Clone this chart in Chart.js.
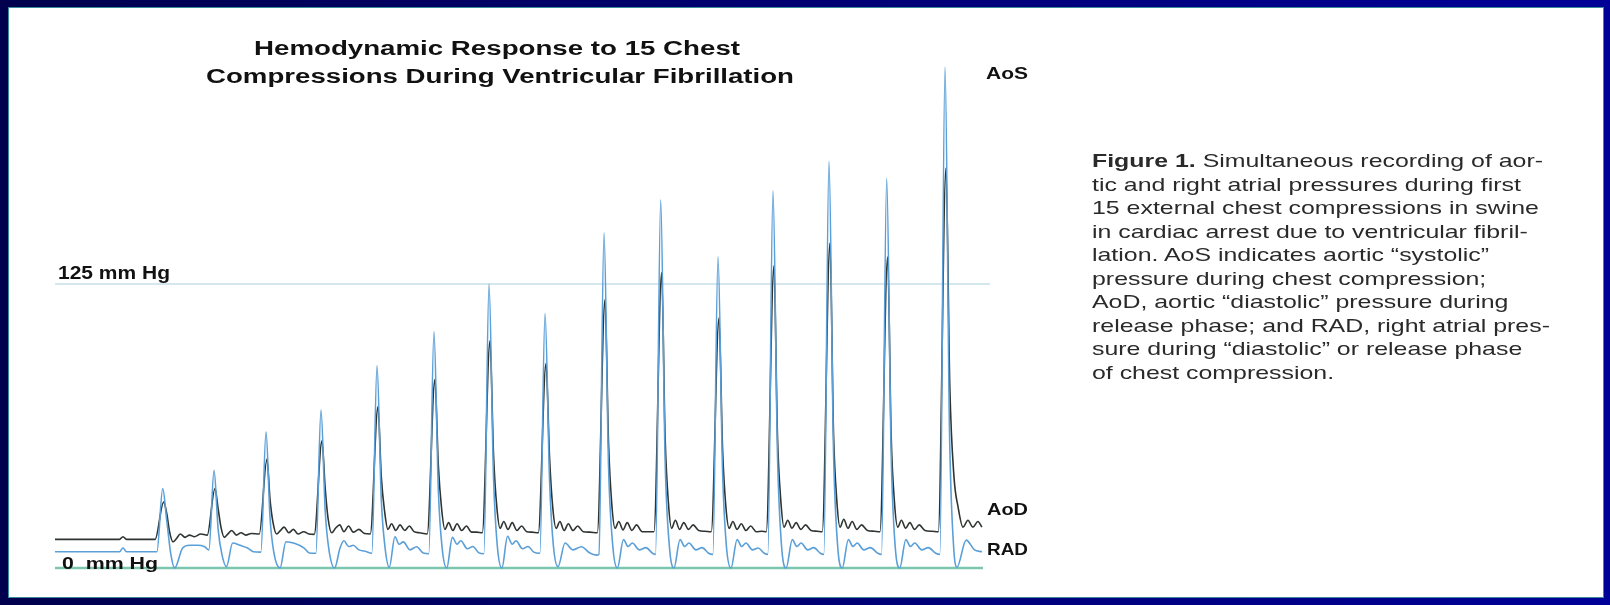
<!DOCTYPE html>
<html>
<head>
<meta charset="utf-8">
<script src="https://cdn.jsdelivr.net/npm/chart.js@4.4.1/dist/chart.umd.min.js"></script>
<style>
html,body{margin:0;padding:0;}
body{width:1610px;height:605px;overflow:hidden;position:relative;background:linear-gradient(to right,#00004e,#000098);}
#panel{position:absolute;left:9px;top:8px;width:1594px;height:589px;background:#fff;box-shadow:0 0 0 1px #3a8a9a;}
#chart{position:absolute;left:0;top:0;}
#caption{position:absolute;left:1092px;top:150px;font-family:"Liberation Sans",Arial,sans-serif;font-size:17.7px;line-height:23.5px;color:#2a2a2a;white-space:nowrap;transform-origin:0 0;}
</style>
</head>
<body>
<div id="panel"></div>
<canvas id="chart" width="1610" height="605"></canvas>
<div id="caption"></div>
<script>
// time in ms, pressure in mm Hg
const aorticPressure = [
[0,12.6],[690,12.6],[727,13.8],[765,12.6],[1070,12.6],
[1162,29],[1195,24],[1225,16],[1262,11.5],[1300,13],[1340,15],[1390,13.5],[1440,14.5],[1490,13.8],[1560,15],[1628,14.5],
[1711,35],[1745,26],[1775,18],[1810,13.5],[1850,15],[1890,16.5],[1940,14.5],[1990,15.5],[2040,14.5],[2100,15.2],[2185,15],
[2267,48],[2300,30],[2332,20],[2370,15],[2410,16.5],[2450,18],[2500,15.5],[2550,17],[2600,15],[2660,16],[2715,15],[2773,14.8],
[2855,56],[2890,35],[2920,22],[2960,15.5],[3000,17.5],[3045,19],[3090,16],[3140,18.5],[3190,15.8],[3250,17],[3310,15.2],[3372,15],
[3454,71],[3490,40],[3525,25],[3560,17],[3600,19.5],[3645,16.5],[3690,19],[3740,16.5],[3790,18.5],[3840,16],[3900,15.5],[3981,15],
[4063,83],[4100,45],[4135,26],[4170,17],[4210,20],[4255,16.5],[4300,19.5],[4350,16.5],[4400,18.5],[4455,15.8],[4510,15.8],[4570,15.5],
[4652,100],[4690,50],[4725,27],[4760,17.5],[4800,20.5],[4845,17],[4890,20],[4940,16.5],[4990,18.5],[5045,16],[5100,15.8],[5169,15.5],
[5251,90],[5290,48],[5325,26],[5360,17.5],[5400,20.5],[5445,16.5],[5490,19.5],[5540,16.5],[5590,18.5],[5650,16],[5720,15.8],[5800,15.5],
[5882,118],[5920,55],[5955,28],[5990,17.5],[6030,20.5],[6075,16.8],[6120,20],[6170,16.5],[6220,19],[6280,16],[6340,16],[6406,16],
[6488,130],[6525,58],[6560,29],[6595,17.5],[6635,21],[6680,17],[6725,20],[6775,17],[6825,19],[6885,16.5],[6950,16.2],[7019,16],
[7101,110],[7140,52],[7175,27],[7210,17.5],[7250,20.5],[7295,17],[7340,19.5],[7390,16.5],[7440,18.5],[7500,16],[7560,16.2],[7607,16],
[7689,133],[7727,58],[7762,30],[7797,18],[7837,21],[7882,17.5],[7927,20],[7977,17],[8027,19],[8087,16.5],[8150,16.2],[8206,16],
[8288,143],[8326,60],[8361,30],[8396,18],[8436,21.5],[8481,17.5],[8526,20.5],[8576,17],[8626,19],[8690,16.5],[8760,16.2],[8823,16],
[8905,137],[8943,58],[8978,29],[9013,18],[9053,21],[9098,17.5],[9143,20],[9193,17],[9243,19],[9305,16.5],[9380,16.2],[9447,16],
[9529,176],[9570,80],[9615,40],[9658,27],[9711,18],[9764,21],[9817,18],[9871,20.5],[9914,18]
];

const rightAtrialPressure = [
[0,7.2],[690,7.2],[727,8.8],[765,7.2],[1090,7.2],
[1152,35],[1195,21],[1237,6.6],[1280,0],[1365,8.8],[1440,10],[1525,10],[1600,9.4],[1646,8],
[1701,43],[1745,17],[1785,6],[1834,0.6],[1900,11],[1980,10],[2060,8.8],[2120,7.2],[2202,7],
[2257,60],[2300,22],[2340,7],[2407,0],[2470,11.6],[2560,10.9],[2665,8.8],[2720,6.6],[2790,6.5],
[2845,69.5],[2890,25],[2930,8],[2990,0],[3050,9],[3090,12],[3140,9.5],[3190,10],[3250,8],[3310,7.5],[3389,6.5],
[3444,89],[3490,30],[3530,9],[3575,0.3],[3636,13.8],[3680,10.5],[3725,11.5],[3797,8],[3868,9.4],[3939,6.6],[3998,6.3],
[4053,104],[4100,34],[4140,9],[4190,0],[4250,13.5],[4300,10.5],[4340,12],[4410,8.5],[4470,9.5],[4530,6.8],[4587,6.3],
[4642,125],[4690,40],[4730,10],[4780,0],[4840,14],[4890,10.5],[4930,12],[5000,8.5],[5060,9.5],[5120,7],[5186,6.5],
[5241,112],[5290,38],[5330,10],[5380,0.6],[5455,11],[5540,8],[5630,9.4],[5720,6.6],[5790,5.7],[5817,6],
[5872,147.5],[5920,45],[5965,10],[6015,0],[6080,12.5],[6130,9.5],[6175,11],[6250,8],[6320,9],[6390,6.5],[6423,6],
[6478,162],[6525,48],[6570,10],[6620,0],[6685,12.5],[6735,9.5],[6780,11],[6855,8],[6920,9],[6990,6.5],[7036,6],
[7091,137],[7140,42],[7180,10],[7230,0],[7295,12.5],[7345,9.5],[7390,11],[7460,8],[7520,8.8],[7585,6.5],[7624,6],
[7679,166],[7727,50],[7770,10],[7820,0],[7885,12.5],[7935,9.5],[7980,11],[8050,8],[8115,9],[8185,6.5],[8223,6],
[8278,179],[8326,52],[8370,10],[8420,0],[8485,12.5],[8535,9.5],[8580,11],[8650,8],[8720,9],[8800,6.5],[8840,6],
[8895,171.5],[8943,50],[8985,10],[9035,0],[9100,12.5],[9150,9.5],[9195,11],[9270,8],[9340,9],[9420,6.5],[9464,6],
[9519,220.5],[9567,60],[9610,10],[9647,0.4],[9745,12.3],[9834,8],[9914,7.2]
];

const referenceLevels = [125, 0];
const referenceEnds = [10000, 9925];
const referenceLabels = ["125 mm Hg", "0  mm Hg"];
const traceLabels = ["AoS", "AoD", "RAD"];
const titleLines = ["Hemodynamic Response to 15 Chest", "Compressions During Ventricular Fibrillation"];
const captionLines = [
  "<b>Figure 1.</b> Simultaneous recording of aor-",
  "tic and right atrial pressures during first",
  "15 external chest compressions in swine",
  "in cardiac arrest due to ventricular fibril-",
  "lation. AoS indicates aortic “systolic”",
  "pressure during chest compression;",
  "AoD, aortic “diastolic” pressure during",
  "release phase; and RAD, right atrial pres-",
  "sure during “diastolic” or release phase",
  "of chest compression."
];

const toXY = arr => arr.map(([t, v]) => ({x: t, y: v}));

// draw text stretched to the width it has in the figure
function fitText(ctx, text, left, baseline, width, font) {
  ctx.save();
  ctx.font = font;
  ctx.fillStyle = "#111";
  ctx.textAlign = "left";
  ctx.textBaseline = "alphabetic";
  const w = ctx.measureText(text).width;
  ctx.translate(left, baseline);
  ctx.scale(width / w, 1);
  ctx.fillText(text, 0, 0);
  ctx.restore();
}

const labelPlugin = {
  id: "figLabels",
  afterDatasetsDraw(chart) {
    const ctx = chart.ctx;
    const bold = s => "bold " + s + "px 'Liberation Sans', Arial, sans-serif";
    fitText(ctx, titleLines[0], 254, 55, 486, bold(20));
    fitText(ctx, titleLines[1], 206, 83, 588, bold(20));
    fitText(ctx, referenceLabels[0], 58, 279, 112, bold(18.5));
    fitText(ctx, referenceLabels[1], 62, 569, 96, bold(17));
    fitText(ctx, traceLabels[0], 986, 79, 42, bold(16.5));
    fitText(ctx, traceLabels[1], 987, 515, 41, bold(16.5));
    fitText(ctx, traceLabels[2], 987, 555, 41, bold(16.5));
  }
};

new Chart(document.getElementById("chart"), {
  type: "line",
  data: {
    datasets: [
      {data: toXY(rightAtrialPressure), borderColor: "#5a9fd8", borderWidth: 1.6},
      {data: toXY(aorticPressure), borderColor: "#2e3430", borderWidth: 1.6},
      {data: [{x: 0, y: referenceLevels[0]}, {x: referenceEnds[0], y: referenceLevels[0]}], borderColor: "#a9cfe0", borderWidth: 1.2},
      {data: [{x: 0, y: referenceLevels[1]}, {x: referenceEnds[1], y: referenceLevels[1]}], borderColor: "#7cc6b0", borderWidth: 2.5}
    ]
  },
  options: {
    responsive: false,
    animation: false,
    layout: {padding: {left: 55, right: 620, top: 45.4, bottom: 25.6}},
    elements: {
      point: {radius: 0},
      line: {cubicInterpolationMode: "monotone", fill: false}
    },
    plugins: {legend: {display: false}, tooltip: {enabled: false}},
    scales: {
      x: {type: "linear", min: 0, max: 10000, display: false},
      y: {min: -5, max: 230, display: false}
    }
  },
  plugins: [labelPlugin]
});

// caption: plain text lines, stretched like the figure
const cap = document.getElementById("caption");
cap.innerHTML = captionLines.map(l => "<div><span>" + l + "</span></div>").join("");
const firstLineWidth = cap.querySelector("span").getBoundingClientRect().width;
cap.style.transform = "scaleX(" + (451 / firstLineWidth) + ")";
</script>
</body>
</html>
